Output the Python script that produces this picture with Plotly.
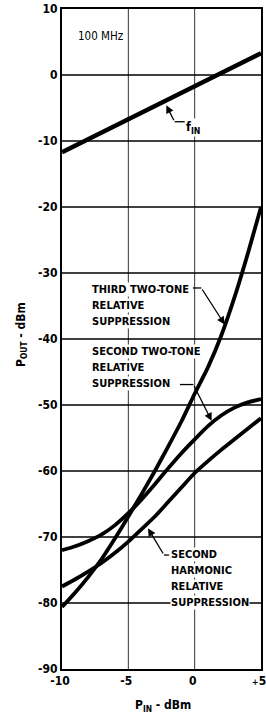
import plotly.graph_objects as go

# ---- data ----
fin_pin = [-10, -5, 0, 5]
fin_out = [-11.7, -6.7, -1.7, 3.3]

pin = [-10, -9, -8, -7, -6, -5, -4, -3, -2, -1, 0, 1, 2, 3, 4, 5]
third_two_tone = [-80.6, -78.4, -76.0, -73.3, -70.2, -66.9, -63.5, -60.0, -56.3, -52.5,
                  -48.3, -44.3, -39.5, -33.7, -27.1, -20.0]
second_two_tone = [-72.0, -71.4, -70.6, -69.6, -68.2, -66.4, -64.3, -62.0, -59.6, -57.3,
                   -55.2, -53.2, -51.6, -50.4, -49.6, -49.1]
second_harmonic = [-77.5, -76.4, -75.2, -73.9, -72.4, -70.7, -68.8, -66.9, -64.7, -62.5,
                   -60.3, -58.5, -56.8, -55.2, -53.6, -52.0]

x_ticks = [-10, -5, 0, 5]
x_tick_text = ["-10", "-5", "0", "<span style='font-size:9px'>+</span>5"]
y_ticks = [10, 0, -10, -20, -30, -40, -50, -60, -70, -80, -90]
y_tick_text = ["10", "0", "-10", "-20", "-30", "-40", "-50", "-60", "-70", "-80", "-90"]

FONT = "DejaVu Sans Condensed, Liberation Sans Narrow, sans-serif"
LINE_STEP = 2.42  # data units between label rows (~16 px)

fig = go.Figure()
for xs, ys, w in [(fin_pin, fin_out, 4.5), (pin, third_two_tone, 3.8),
                  (pin, second_two_tone, 3.8), (pin, second_harmonic, 3.8)]:
    fig.add_trace(go.Scatter(x=xs, y=ys, mode="lines",
                             line=dict(color="black", width=w, shape="spline", smoothing=0.6),
                             showlegend=False, hoverinfo="skip"))

# vertical grid lines (thin)
for xv in [-5, 0]:
    fig.add_shape(type="line", xref="x", yref="y", x0=xv, x1=xv, y0=-90, y1=10,
                  line=dict(color="#333", width=1), layer="below")
# horizontal grid lines
for yv in [0, -10, -20, -30, -40, -50, -60, -70, -80]:
    fig.add_shape(type="line", xref="x", yref="y", x0=-10, x1=5, y0=yv, y1=yv,
                  line=dict(color="black", width=1.6), layer="below")

lab_font = dict(family=FONT, size=11, color="black", weight="bold")

def label(x, y, text, font=lab_font):
    fig.add_annotation(x=x, y=y, xref="x", yref="y", text=text, showarrow=False,
                       xanchor="left", yanchor="middle", align="left", font=font,
                       bgcolor="white", borderpad=0)

def block(x, y_first, rows):
    for i, r in enumerate(rows):
        label(x, y_first - i * LINE_STEP, r)

def leader(pts):
    # pts: list of (x,y); last segment gets an arrowhead at the last point
    for (x0, y0), (x1, y1) in zip(pts[:-2], pts[1:-1]):
        fig.add_shape(type="line", xref="x", yref="y", x0=x0, y0=y0, x1=x1, y1=y1,
                      line=dict(color="black", width=1.3))
    (bx, by), (tx, ty) = pts[-2], pts[-1]
    fig.add_annotation(x=tx, y=ty, xref="x", yref="y", ax=bx, ay=by, axref="x", ayref="y",
                       text="", showarrow=True, arrowhead=2, arrowsize=1.2,
                       arrowwidth=1.3, arrowcolor="black")

label(-8.87, 5.9, "100 MHz", font=dict(family=FONT, size=11.5, color="black"))
label(-0.70, -7.9, "f<sub>IN</sub>", font=dict(family=FONT, size=12.5, color="black", weight="bold"))
leader([(-0.75, -7.08), (-1.51, -7.08), (-2.14, -4.6)])

block(-7.81, -32.5, ["THIRD TWO-TONE", "RELATIVE", "SUPPRESSION"])
leader([(-0.13, -32.27), (0.5, -32.27), (2.26, -37.8)])

block(-7.81, -41.9, ["SECOND TWO-TONE", "RELATIVE", "SUPPRESSION"])
leader([(-1.11, -46.9), (-0.10, -46.9), (1.28, -52.4)])

block(-1.86, -72.7, ["SECOND", "HARMONIC", "RELATIVE", "SUPPRESSION"])
leader([(-1.93, -72.73), (-2.31, -72.73), (-3.52, -68.7)])

# axis titles
fig.add_annotation(x=-0.201, y=0.506, xref="paper", yref="paper",
                   xanchor="center", yanchor="middle",
                   text="P<sub>OUT</sub> - dBm", textangle=-90, showarrow=False,
                   font=dict(family=FONT, size=12, color="black", weight="bold"))
fig.add_annotation(x=0.5075, y=-0.056, xref="paper", yref="paper",
                   xanchor="center", yanchor="middle",
                   text="P<sub>IN</sub> - dBm", showarrow=False,
                   font=dict(family=FONT, size=12, color="black", weight="bold"))

tick_font = dict(family=FONT, size=12, color="black", weight="bold")
fig.update_layout(
    width=266, height=719,
    margin=dict(l=62, r=5, t=9, b=50, autoexpand=False),
    paper_bgcolor="white", plot_bgcolor="white",
    xaxis=dict(range=[-10, 5], tickvals=x_ticks, ticktext=x_tick_text, showgrid=False,
               zeroline=False, showline=True, mirror=True, linecolor="black", linewidth=2,
               ticks="", tickfont=tick_font, automargin=False, fixedrange=True,
               ticklabeloverflow="allow", ticklabelshift=-2),
    yaxis=dict(range=[-90, 10], tickvals=y_ticks, ticktext=y_tick_text, showgrid=False,
               zeroline=False, showline=True, mirror=True, linecolor="black", linewidth=2,
               ticks="", tickfont=tick_font, automargin=False, fixedrange=True,
               ticklabeloverflow="allow"),
)

fig.write_html(
    "out.html",
    config={"displayModeBar": False, "staticPlot": True},
    post_script="document.body.style.margin='0px';document.body.style.overflow='hidden';",
)
